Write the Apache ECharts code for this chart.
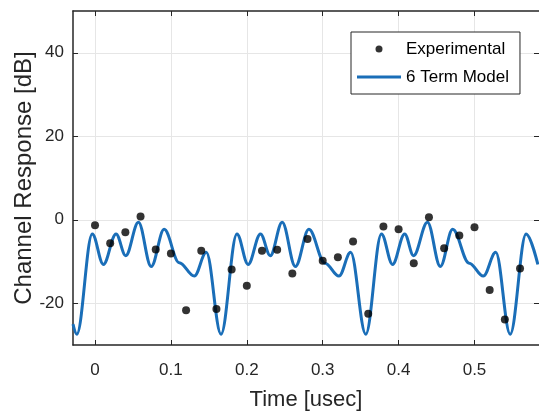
<!DOCTYPE html>
<html>
<head>
<meta charset="utf-8">
<script src="https://cdn.jsdelivr.net/npm/echarts@6/dist/echarts.min.js"></script>
<style>
html, body { margin: 0; padding: 0; background: #fff; }
#chart { width: 539px; height: 414px; }
</style>
</head>
<body>
<div id="chart"></div>
<script>
// measured samples [time usec, dB]
const experimental = [
  [0, -1.3], [0.02, -5.6], [0.04, -3.0], [0.06, 0.8], [0.08, -7.1],
  [0.1, -8.1], [0.12, -21.7], [0.14, -7.4], [0.16, -21.4], [0.18, -11.9],
  [0.2, -15.8], [0.22, -7.4], [0.24, -7.2], [0.26, -12.9], [0.28, -4.6],
  [0.3, -9.8], [0.32, -9.0], [0.34, -5.2], [0.36, -22.5], [0.38, -1.6],
  [0.4, -2.3], [0.42, -10.4], [0.44, 0.6], [0.46, -6.8], [0.48, -3.8],
  [0.5, -1.8], [0.52, -16.8], [0.54, -23.9], [0.56, -11.7],
];

// model curve: peaks, troughs and shoulders
const model = [
  [-0.029, -25.0], [-0.024, -27.4], [-0.0036, -3.4], [0.011, -10.7], [0.0277, -3.4],
  [0.0405, -8.6], [0.0572, -0.6], [0.074, -11.2], [0.0911, -2.3], [0.111, -10.3],
  [0.1308, -13.5], [0.1466, -7.8], [0.166, -27.4],
  [0.187, -3.4], [0.2017, -10.7], [0.218, -3.4], [0.231, -8.6], [0.2466, -0.6],
  [0.264, -11.2], [0.2818, -2.3], [0.303, -10.4], [0.3214, -13.5], [0.3368, -7.8],
  [0.3567, -27.4],
  [0.3774, -3.4], [0.392, -10.7], [0.408, -3.4], [0.4197, -8.6], [0.438, -0.6],
  [0.455, -11.2], [0.4712, -2.3], [0.493, -10.4], [0.5116, -13.5], [0.528, -7.8],
  [0.547, -27.4], [0.568, -3.4], [0.5835, -10.7],
];

const xTicks = [0, 0.1, 0.2, 0.3, 0.4, 0.5];
const yTicks = [-20, 0, 20, 40];

const font = "'Liberation Sans', Arial, Helvetica, sans-serif";
const axisColor = '#262626';
const gridColor = '#e6e6e6';
const lineColor = '#1a6eb8';

const chart = echarts.init(document.getElementById('chart'));

const boxAxis = {
  type: 'value',
  axisLine: { show: true, onZero: false, lineStyle: { color: axisColor, width: 1.5 } },
  axisTick: { show: true, inside: true, length: 5, lineStyle: { color: axisColor } },
  axisLabel: { show: false },
  splitLine: { show: false },
};

const option = {
  backgroundColor: '#fff',
  animation: false,
  grid: { left: 73, right: 0, top: 11, bottom: 69, outerBoundsMode: 'none' },
  xAxis: [
    {
      type: 'value',
      min: -0.029,
      max: 0.585,
      name: 'Time [usec]',
      nameLocation: 'middle',
      nameGap: 44,
      nameMoveOverlap: false,
      nameTextStyle: { color: axisColor, fontSize: 22, fontFamily: font },
      axisLine: { onZero: false, lineStyle: { color: axisColor, width: 1.5 } },
      axisTick: { inside: true, length: 5, customValues: xTicks, lineStyle: { color: axisColor } },
      axisLabel: { customValues: xTicks, margin: 17, color: axisColor, fontSize: 17, fontFamily: font },
      splitLine: { show: true, lineStyle: { color: gridColor } },
    },
    Object.assign({}, boxAxis, {
      position: 'top', min: -0.029, max: 0.585,
      axisTick: Object.assign({}, boxAxis.axisTick, { customValues: xTicks }),
    }),
  ],
  yAxis: [
    {
      type: 'value',
      min: -30,
      max: 50,
      name: 'Channel Response [dB]',
      nameLocation: 'middle',
      nameGap: 37,
      nameMoveOverlap: false,
      nameTextStyle: { color: axisColor, fontSize: 24, fontFamily: font },
      axisLine: { show: true, onZero: false, lineStyle: { color: axisColor, width: 1.5 } },
      axisTick: { show: true, inside: true, length: 5, customValues: yTicks, lineStyle: { color: axisColor } },
      axisLabel: { customValues: yTicks, margin: 9, color: axisColor, fontSize: 17, fontFamily: font },
      splitLine: { show: true, lineStyle: { color: gridColor } },
    },
    Object.assign({}, boxAxis, {
      position: 'right', min: -30, max: 50,
      axisLine: { show: false, onZero: false },
      axisTick: Object.assign({}, boxAxis.axisTick, { customValues: yTicks }),
    }),
  ],
  legend: {
    orient: 'vertical',
    left: 351,
    top: 32,
    padding: [7, 11, 7, 6],
    itemWidth: 44,
    itemHeight: 7,
    itemGap: 8,
    backgroundColor: '#fff',
    borderColor: axisColor,
    borderWidth: 1,
    borderRadius: 0,
    textStyle: { color: '#000', fontSize: 17, fontFamily: font, lineHeight: 20 },
    data: [
      { name: 'Experimental', icon: 'circle' },
      { name: '6 Term Model', icon: 'path://M0,0H44V3H0Z' },
    ],
  },
  series: [
    {
      name: '6 Term Model',
      type: 'line',
      data: model,
      smooth: 0.36,
      smoothMonotone: 'x',
      showSymbol: false,
      symbol: 'none',
      clip: true,
      lineStyle: { color: lineColor, width: 3 },
      itemStyle: { color: lineColor },
      z: 2,
    },
    {
      name: 'Experimental',
      type: 'scatter',
      data: experimental,
      symbol: 'circle',
      symbolSize: 8,
      itemStyle: { color: '#000' },
      z: 3,
    },
  ],
};

chart.setOption(option);
</script>
</body>
</html>
